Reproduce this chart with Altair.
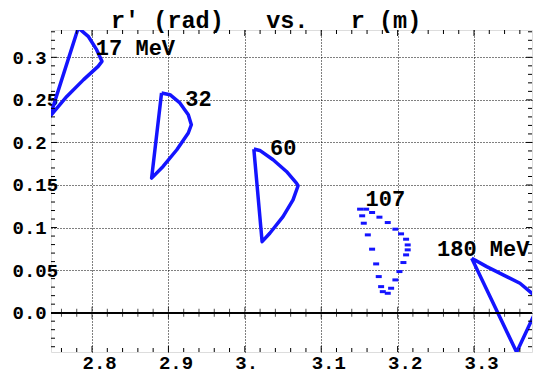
import altair as alt
import pandas as pd

# ---- data ----
loop17_x = [2.782, 2.795, 2.806, 2.813, 2.808, 2.789, 2.767, 2.745, 2.782]
loop17_y = [0.3346, 0.3247, 0.309, 0.2953, 0.2894, 0.2738, 0.2541, 0.2306, 0.3346]

loop32_x = [2.891, 2.902, 2.915, 2.926, 2.930, 2.926, 2.911, 2.893, 2.878, 2.891]
loop32_y = [0.2581, 0.2561, 0.2464, 0.2326, 0.2208, 0.2111, 0.1914, 0.1718, 0.1581, 0.2581]

loop60_x = [3.0118, 3.0196, 3.037, 3.0545, 3.0676, 3.0697, 3.0631, 3.050, 3.0327, 3.0226, 3.0118]
loop60_y = [0.1922, 0.1906, 0.1796, 0.1659, 0.1522, 0.1491, 0.1326, 0.1129, 0.0933, 0.0835, 0.1922]

loop180_x = [3.297, 3.3166, 3.3427, 3.3601, 3.3732, 3.3873, 3.3558, 3.297]
loop180_y = [0.064, 0.0541, 0.0424, 0.0346, 0.0247, 0.0141, -0.0465, 0.064]

dots107_x = [3.1509, 3.1588, 3.1666, 3.1762, 3.1871, 3.1971, 3.2045, 3.2111, 3.2132, 3.2132,
             3.2111, 3.2076, 3.2024, 3.1971, 3.1915, 3.1871, 3.1806, 3.1784, 3.1753, 3.1719,
             3.1666, 3.1610, 3.1557, 3.1536]
dots107_y = [0.1216, 0.1216, 0.1177, 0.1122, 0.1059, 0.0981, 0.0926, 0.0863, 0.0796, 0.0738,
             0.0679, 0.0589, 0.0483, 0.0385, 0.0287, 0.0228, 0.0247, 0.0306, 0.0424, 0.0573,
             0.0746, 0.0914, 0.1051, 0.1138]

label_text = ["17 MeV", "32", "60", "107", "180 MeV"]
label_x = [2.805, 2.922, 3.033, 3.158, 3.2516]
label_y = [0.303, 0.243, 0.1847, 0.1255, 0.0667]

x_tick_values = [2.8, 2.9, 3.0, 3.1, 3.2, 3.3]
x_tick_labels = ["2.8", "2.9", "3.", "3.1", "3.2", "3.3"]
y_tick_values = [0.0, 0.05, 0.1, 0.15, 0.2, 0.25, 0.3]
y_tick_labels = ["0.0", "0.05", "0.1", "0.15", "0.2", "0.25", "0.3"]

NB = "\u00a0"
title_text = [f"r′{NB}(rad){NB*3}vs.{NB*3}r{NB}(m)"]

# ---- build tables ----
rows = []
for name, xs_, ys_ in [("17", loop17_x, loop17_y), ("32", loop32_x, loop32_y),
                       ("60", loop60_x, loop60_y), ("180", loop180_x, loop180_y)]:
    for i, (a, b) in enumerate(zip(xs_, ys_)):
        rows.append({"loop": name, "i": i, "r": a, "rp": b})
loops = pd.DataFrame(rows)
dots = pd.DataFrame({"r": dots107_x, "rp": dots107_y})
labels = pd.DataFrame({"t": label_text, "r": label_x, "rp": label_y})
titles = pd.DataFrame({"t": title_text})

x_major = pd.DataFrame({"v": x_tick_values})
x_minor = pd.DataFrame({"v": [round(2.76 + 0.02 * k, 2) for k in range(31)
                              if round((2.76 + 0.02 * k) * 10, 6) % 1 != 0]})
y_major = pd.DataFrame({"v": y_tick_values})
y_minor = pd.DataFrame({"v": [round(-0.04 + 0.01 * k, 2) for k in range(38)
                              if round((-0.04 + 0.01 * k) * 100) % 5 != 0]})

W, H = 481, 322
XS = alt.Scale(domain=[2.7463, 3.3759], nice=False, zero=False)
YS = alt.Scale(domain=[-0.0462, 0.3321], nice=False, zero=False)
BLUE = "#1414ff"
FONT = "Liberation Mono"


def label_expr(vals, labs):
    e = "''"
    for v, l in zip(vals, labs):
        e = f"abs(datum.value - {v}) < 1e-6 ? '{l}' : ({e})"
    return e


x_axis = alt.Axis(values=x_tick_values, labelExpr=label_expr(x_tick_values, x_tick_labels),
                  title=None, domain=False, ticks=False, tickSize=0, grid=True,
                  gridDash=[1, 2], gridColor="black", gridWidth=1, gridOpacity=1,
                  labelFont=FONT, labelFontSize=19, labelFontWeight="bold", labelColor="black",
                  labelAlign="left", labelOffset=-10, labelBaseline="alphabetic", labelPadding=16,
                  labelFlush=False, labelOverlap=False)
y_axis = alt.Axis(values=y_tick_values, labelExpr=label_expr(y_tick_values, y_tick_labels),
                  title=None, domain=False, ticks=False, tickSize=0, grid=True,
                  gridDash=[1, 2], gridColor="black", gridWidth=1, gridOpacity=1,
                  labelFont=FONT, labelFontSize=19, labelFontWeight="bold", labelColor="black",
                  labelAlign="left", labelPadding=39, labelBaseline="middle",
                  labelFlush=False, labelOverlap=False)


def X(f):
    return alt.X(f, scale=XS, axis=x_axis)


def Y(f):
    return alt.Y(f, scale=YS, axis=y_axis)


base_lines = alt.Chart(loops).mark_line(color=BLUE, strokeWidth=3.5, clip=True,
                                        strokeJoin="round").encode(
    x=X("r:Q"), y=Y("rp:Q"), detail="loop:N", order="i:Q",
)

dot_layer = alt.Chart(dots).mark_point(shape="M-1,-0.5L1,-0.5L1,0.5L-1,0.5Z", size=36,
                                       filled=True, color=BLUE, opacity=1, clip=True).encode(
    x=X("r:Q"), y=Y("rp:Q"),
)

text_layer = alt.Chart(labels).mark_text(font=FONT, fontSize=22, fontWeight="bold",
                                         align="left", baseline="alphabetic",
                                         color="black").encode(
    x=X("r:Q"), y=Y("rp:Q"), text="t:N",
)

title_layer = alt.Chart(titles).mark_text(font=FONT, fontSize=23.5, fontWeight="bold",
                                          align="left", baseline="alphabetic",
                                          color="black").encode(
    x=alt.value(60), y=alt.value(-2), text="t:N",
)

# zero axis line
zero_line = alt.Chart(x_major).mark_rule(color="black", strokeWidth=1.5).encode(
    y=alt.datum(0, scale=YS, axis=y_axis),
    x=alt.value(0), x2=alt.value(W),
)


def xticks(df, length, thick=1):
    bottom = alt.Chart(df).mark_rule(color="black", strokeWidth=thick).encode(
        x=X("v:Q"), y=alt.value(H), y2=alt.value(H - length))
    top = alt.Chart(df).mark_rule(color="black", strokeWidth=thick).encode(
        x=X("v:Q"), y=alt.value(0), y2=alt.value(length))
    mid = alt.Chart(df).mark_tick(color="black", orient="vertical", size=2 * length,
                                  thickness=thick).encode(
        x=X("v:Q"), y=alt.datum(0, scale=YS, axis=y_axis))
    return [bottom, top, mid]


def yticks(df, length, thick=1):
    left = alt.Chart(df).mark_rule(color="black", strokeWidth=thick, clip=True).encode(
        y=Y("v:Q"), x=alt.value(0), x2=alt.value(length))
    right = alt.Chart(df).mark_rule(color="black", strokeWidth=thick, clip=True).encode(
        y=Y("v:Q"), x=alt.value(W), x2=alt.value(W - length))
    return [left, right]


layers = [base_lines, zero_line]
layers += xticks(x_major, 6) + xticks(x_minor, 4)
layers += yticks(y_major, 6) + yticks(y_minor, 4)
layers += [dot_layer, text_layer, title_layer]

chart = alt.layer(*layers).properties(
    width=W, height=H,
    autosize=alt.AutoSizeParams(type="none"),
    padding={"left": 51, "top": 30, "right": 1, "bottom": 24},
).configure_view(stroke="black", strokeWidth=1).configure(background="white")

chart.save("out.html", embed_options={"renderer": "svg", "actions": False})
